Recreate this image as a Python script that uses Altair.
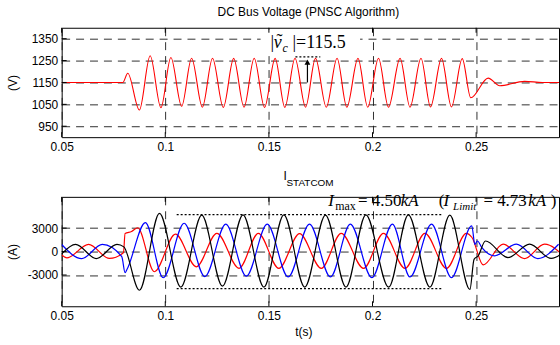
import altair as alt
import pandas as pd

# ---------------- data ----------------
# DC bus voltage (V) : time (s) of extremes / turning points and their values
vdc_t = [0.050, 0.0795, 0.0819, 0.0875, 0.0927, 0.0979, 0.1027, 0.1079, 0.1127, 0.1179,
         0.1228, 0.1280, 0.1330, 0.1380, 0.1429, 0.1479, 0.1530, 0.1577, 0.1626, 0.1677,
         0.1725, 0.1777, 0.1829, 0.1876, 0.1930, 0.1977, 0.2029, 0.2077, 0.2133, 0.2181,
         0.2234, 0.2280, 0.2333, 0.2381, 0.2433, 0.2474, 0.2558, 0.2614, 0.2734, 0.2820, 0.2900]
vdc_v = [1150, 1150, 1192, 1024, 1272, 1035, 1264, 1041, 1261, 1037,
         1261, 1036, 1260, 1037, 1261, 1036, 1260, 1036, 1261, 1037,
         1260, 1037, 1261, 1037, 1260, 1037, 1261, 1037, 1260, 1037,
         1261, 1038, 1260, 1038, 1259, 1080, 1170, 1135, 1155, 1150, 1150]

# STATCOM phase currents (A)
red_t = [0.0500, 0.0525, 0.0630, 0.0730, 0.0798, 0.0806, 0.0837, 0.0867, 0.0947, 0.1049,
         0.1150, 0.1249, 0.1356, 0.1449, 0.1548, 0.1648, 0.1753, 0.1849, 0.1957, 0.2053,
         0.2157, 0.2253, 0.2357, 0.2453, 0.2480, 0.2534, 0.2630, 0.2734, 0.2830, 0.2934]
red_i = [-450, -800, 920, -880, -150, 2300, 2560, 3050, -2580, 2230,
         -1950, 2330, -2140, 2330, -2150, 2300, -2150, 2330, -2150, 2330,
         -2150, 2330, -2150, 2330, 1800, -1700, 940, -900, 940, -900]

blue_t = [0.0500, 0.0597, 0.0696, 0.0790, 0.0806, 0.0815, 0.0904, 0.0990, 0.1091, 0.1191,
          0.1292, 0.1391, 0.1492, 0.1593, 0.1696, 0.1797, 0.1893, 0.1997, 0.2096, 0.2181,
          0.2285, 0.2381, 0.2479, 0.2494, 0.2506, 0.2528, 0.2589, 0.2694, 0.2798, 0.2898]
blue_i = [900, -900, 920, -650, -2700, -2300, 3700, -3350, 3620, -3200,
          3500, -3150, 3500, -3250, 3500, -3250, 3500, -3340, 3500, -3250,
          3500, -3340, 3300, 900, 1350, 500, -550, 940, -900, 940]

black_t = [0.0500, 0.0567, 0.0667, 0.0767, 0.0800, 0.0875, 0.0972, 0.1075, 0.1176, 0.1276,
           0.1375, 0.1476, 0.1572, 0.1673, 0.1773, 0.1872, 0.1968, 0.2078, 0.2173, 0.2277,
           0.2373, 0.2470, 0.2490, 0.2510, 0.2545, 0.2654, 0.2758, 0.2862, 0.2958]
black_i = [-300, 920, -900, 920, 600, -4950, 4880, -4550, 4650, -4420,
           4700, -4540, 4700, -4540, 4650, -4540, 4700, -4560, 4700, -4540,
           4650, -4850, -1000, -550, 1350, -770, 940, -880, 920]

# axes
x_ticks = [0.05, 0.1, 0.15, 0.2, 0.25]
v_ticks = [950, 1050, 1150, 1250, 1350]
i_ticks = [-3000, 0, 3000]
x_domain = [0.05, 0.29]
v_domain = [900, 1400]
i_domain = [-7000, 7000]

# annotations (data coordinates)
ripple_arrow_t = [0.1686]
ripple_arrow_v = [1150, 1245]
ripple_tip_v = [1243]
ripple_dot_t = [0.1628, 0.1748]
ripple_dot_v = [1267]
ripple_box_t = [0.1460, 0.1940]
ripple_box_v = [1292, 1392]
limit_t = [0.1055, 0.2335]
limit_v = [4730, -4730]

# ---------------- styling ----------------
SANS = "Liberation Sans"
SERIF = "Liberation Serif"
W, H = 500, 110
GRID = dict(grid=True, gridDash=[8, 6], gridColor="#1a1a1a", gridWidth=0.9,
            ticks=False, domain=False, labelFont=SANS, labelFontSize=12,
            labelColor="black", labelFlush=False, labelOverlap=False)

xscale = alt.Scale(domain=x_domain, nice=False, zero=False)
vscale = alt.Scale(domain=v_domain, nice=False, zero=False)
iscale = alt.Scale(domain=i_domain, nice=False, zero=False)

ax_x_top = alt.Axis(values=x_ticks, format=".2~f", title=None, labelPadding=4, **GRID)
ax_x_bot = alt.Axis(values=x_ticks, format=".2~f", title="t(s)", labelPadding=4,
                    titleFont=SANS, titleFontSize=12, titleFontWeight="normal",
                    titleColor="black", titleX=243, titleY=25, titleBaseline="middle",
                    **GRID)
ax_v = alt.Axis(values=v_ticks, format="d", title="(V)", labelPadding=4,
                titleFont=SANS, titleFontSize=12, titleFontWeight="normal", titleColor="black",
                titleX=-49, titleY=55, titleAngle=270, titleAlign="center",
                titleBaseline="middle", **GRID)
ax_i = alt.Axis(values=i_ticks, labelExpr="'' + datum.value", title="(A)", labelPadding=4,
                titleFont=SANS, titleFontSize=12, titleFontWeight="normal", titleColor="black",
                titleX=-49, titleY=55, titleAngle=270, titleAlign="center",
                titleBaseline="middle", **GRID)


def X(ax, f="t"):
    return alt.X(f"{f}:Q", scale=xscale, axis=ax)


def Y(scale, ax, f="v"):
    return alt.Y(f"{f}:Q", scale=scale, axis=ax)


def texts(rows, scale, axx, axy, size, style="normal", font=SERIF):
    df = pd.DataFrame(rows, columns=["t", "v", "s"])
    return alt.Chart(df).mark_text(align="left", baseline="alphabetic", font=font,
                                   fontSize=size, fontStyle=style, color="black").encode(
        x=X(axx), y=Y(scale, axy), text="s:N")


def ticks(axx, scale, axy, yvals):
    xt = pd.DataFrame({"t": x_ticks})
    yt = pd.DataFrame({"v": yvals})
    a = alt.Chart(xt).mark_rule(color="black", strokeWidth=1).encode(
        x=X(axx), y=alt.value(0), y2=alt.value(5))
    b = alt.Chart(xt).mark_rule(color="black", strokeWidth=1).encode(
        x=X(axx), y=alt.value(H), y2=alt.value(H - 5))
    c = alt.Chart(yt).mark_rule(color="black", strokeWidth=1).encode(
        y=Y(scale, axy), x=alt.value(0), x2=alt.value(5))
    return [a, b, c]


# ---------------- top panel ----------------
vdc_df = pd.DataFrame({"t": vdc_t, "v": vdc_v})
vdc_line = alt.Chart(vdc_df).mark_line(color="#ff0000", strokeWidth=1.1,
                                       interpolate="monotone", clip=True).encode(
    x=X(ax_x_top), y=Y(vscale, ax_v))

box = alt.Chart(pd.DataFrame({"t": [ripple_box_t[0]], "t2": [ripple_box_t[1]],
                              "v": [ripple_box_v[0]], "v2": [ripple_box_v[1]]})).mark_rect(
    color="white").encode(x=X(ax_x_top), x2="t2:Q", y=Y(vscale, ax_v), y2="v2:Q")
dots = alt.Chart(pd.DataFrame({"t": [ripple_dot_t[0]], "t2": [ripple_dot_t[1]],
                               "v": ripple_dot_v})).mark_rule(
    color="black", strokeWidth=1.3, strokeDash=[2, 2]).encode(
    x=X(ax_x_top), x2="t2:Q", y=Y(vscale, ax_v))
arrow = alt.Chart(pd.DataFrame({"t": ripple_arrow_t, "v": [ripple_arrow_v[0]],
                                "v2": [ripple_arrow_v[1]]})).mark_rule(
    color="black", strokeWidth=1.2).encode(x=X(ax_x_top), y=Y(vscale, ax_v), y2="v2:Q")
tip = alt.Chart(pd.DataFrame({"t": ripple_arrow_t, "v": ripple_tip_v})).mark_point(
    shape="triangle-up", filled=True, color="black", size=34, opacity=1).encode(
    x=X(ax_x_top), y=Y(vscale, ax_v))

lab_top = [
    texts([[0.1508, 1309, "|"]], vscale, ax_x_top, ax_v, 18),
    texts([[0.1524, 1309, "v"]], vscale, ax_x_top, ax_v, 18, "italic"),
    texts([[0.1537, 1311, "˜"]], vscale, ax_x_top, ax_v, 18),
    texts([[0.1566, 1291, "c"]], vscale, ax_x_top, ax_v, 12, "italic"),
    texts([[0.1614, 1309, "|=115.5"]], vscale, ax_x_top, ax_v, 18),
]

title_top = alt.Chart(pd.DataFrame({"s": ["DC Bus Voltage (PNSC Algorithm)"]})).mark_text(
    align="center", baseline="alphabetic", font=SANS, fontSize=12, color="black").encode(
    x=alt.value(248), y=alt.value(-12), text="s:N")
anchor = alt.Chart(pd.DataFrame({"s": ["a"]})).mark_rule(color="white", strokeWidth=1).encode(
    x=alt.value(-61), x2=alt.value(-60), y=alt.value(-26))

top = alt.layer(vdc_line, box, dots, arrow, tip, *lab_top, title_top, anchor,
                *ticks(ax_x_top, vscale, ax_v, v_ticks)).properties(width=W, height=H)

# ---------------- bottom panel ----------------
def phase(ts, vals, color):
    df = pd.DataFrame({"t": ts, "v": vals})
    return alt.Chart(df).mark_line(color=color, strokeWidth=1.2, interpolate="monotone",
                                   clip=True).encode(x=X(ax_x_bot), y=Y(iscale, ax_i))


lim = alt.Chart(pd.DataFrame({"t": [limit_t[0]] * 2, "t2": [limit_t[1]] * 2,
                              "v": limit_v})).mark_rule(
    color="black", strokeWidth=1.3, strokeDash=[2, 2]).encode(
    x=X(ax_x_bot), x2="t2:Q", y=Y(iscale, ax_i))

lab_bot = [
    texts([[0.17864, 5855, "I"], [0.23432, 5855, "I"], [0.21368, 5855, "kA"],
           [0.27512, 5855, "kA"]], iscale, ax_x_bot, ax_i, 17, "italic"),
    texts([[0.1820, 5345, "max"]], iscale, ax_x_bot, ax_i, 12),
    texts([[0.23890, 5345, "Limit"]], iscale, ax_x_bot, ax_i, 11, "italic"),
    texts([[0.19304, 5855, "= 4.50"], [0.25352, 5855, "= 4.73"], [0.23192, 5855, "("],
           [0.28600, 5855, ")"]], iscale, ax_x_bot, ax_i, 17),
]

title_b1 = alt.Chart(pd.DataFrame({"s": ["I"]})).mark_text(
    align="left", baseline="alphabetic", font=SANS, fontSize=12, color="black").encode(
    x=alt.value(223), y=alt.value(-17), text="s:N")
title_b2 = alt.Chart(pd.DataFrame({"s": ["STATCOM"]})).mark_text(
    align="left", baseline="alphabetic", font=SANS, fontSize=10, color="black").encode(
    x=alt.value(226), y=alt.value(-11), text="s:N")

bottom = alt.layer(phase(red_t, red_i, "#ff0000"), phase(blue_t, blue_i, "#0000ff"),
                   phase(black_t, black_i, "#000000"), lim, *lab_bot, title_b1, title_b2,
                   *ticks(ax_x_bot, iscale, ax_i, i_ticks)).properties(width=W, height=H)

chart = alt.vconcat(top, bottom, spacing=60, bounds="flush").properties(
    padding=0, background="white").configure_view(stroke="black", strokeWidth=1)

chart.save("out.html", embed_options={"renderer": "svg", "actions": False})
